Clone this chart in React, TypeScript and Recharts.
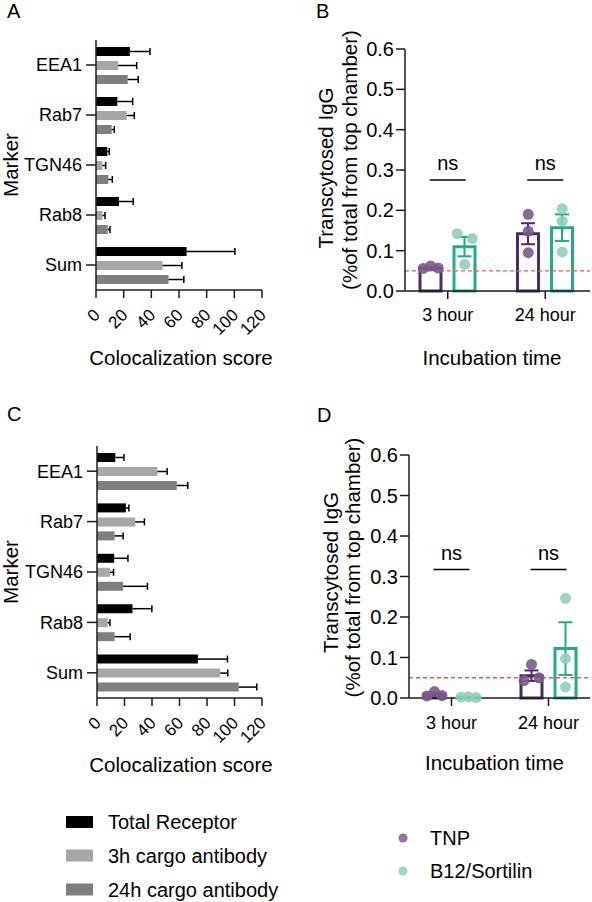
import {
  BarChart, Bar, ComposedChart, Scatter, XAxis, YAxis,
  ReferenceLine, ErrorBar,
} from 'recharts'

const FONT = '"Liberation Sans", Arial, Helvetica, sans-serif'
const INK = '#1c1c1c'

// A / C: colocalization score per marker
const markers = ['EEA1', 'Rab7', 'TGN46', 'Rab8', 'Sum']
const scoreTicks = [0, 20, 40, 60, 80, 100, 120]
const stainNames = ['Total Receptor', '3h cargo antibody', '24h cargo antibody']
const stainColors = ['#000000', '#a7a7a7', '#7f7f7f']

const totalA = [24.5, 15.4, 8.2, 16.6, 65.5]
const totalAErr = [14.5, 11.1, 1.4, 10.3, 34.9]
const cargo3hA = [16.0, 22.2, 4.6, 4.6, 48.1]
const cargo3hAErr = [13.4, 5.5, 2.4, 1.9, 14.0]
const cargo24hA = [22.9, 11.3, 8.9, 8.4, 52.4]
const cargo24hAErr = [7.6, 1.9, 2.9, 1.7, 11.1]

const totalC = [13.3, 21.0, 12.5, 25.8, 73.4]
const totalCErr = [6.3, 2.2, 10.0, 14.1, 21.5]
const cargo3hC = [43.9, 27.8, 9.4, 7.7, 89.6]
const cargo3hCErr = [7.1, 6.7, 2.6, 1.7, 5.5]
const cargo24hC = [58.0, 12.8, 19.0, 12.8, 103.1]
const cargo24hCErr = [8.0, 6.2, 17.7, 11.3, 13.1]

// B / D: transcytosed IgG
const times = ['3 hour', '24 hour']
const igTicks = [0, 0.1, 0.2, 0.3, 0.4, 0.5, 0.6]
const groupNames = ['TNP', 'B12/Sortilin']
const groupLines = ['#4b2a60', '#22ac87']
const groupDots = ['#7a5b8c', '#8ed1b7']
const cutoff = 0.05

const tnpB = [0.057, 0.142]
const tnpBSem = [0.003, 0.026]
const b12B = [0.110, 0.157]
const b12BSem = [0.024, 0.033]
const tnpBReps = [[0.056, 0.062, 0.057], [0.190, 0.148, 0.095]]
const b12BReps = [[0.142, 0.066, 0.130], [0.204, 0.173, 0.097]]
const nsB = 0.275

const tnpD = [0.009, 0.055]
const tnpDSem = [0.004, 0.013]
const b12D = [0.002, 0.122]
const b12DSem = [0.001, 0.065]
const tnpDReps = [[0.005, 0.016, 0.006], [0.043, 0.083, 0.050]]
const b12DReps = [[0.002, 0.003, 0.001], [0.246, 0.097, 0.027]]
const nsD = 0.317

const DOT_R = 5.5
const SPREAD = 7.5
const BAR_W = 21
const BAR_GAP = 13

function scoreRows(vals: number[][], errs: number[][]) {
  return markers.map((marker, i) => ({
    marker,
    s0: vals[0][i], e0: errs[0][i],
    s1: vals[1][i], e1: errs[1][i],
    s2: vals[2][i], e2: errs[2][i],
  }))
}

const rowsA = scoreRows([totalA, cargo3hA, cargo24hA], [totalAErr, cargo3hAErr, cargo24hAErr])
const rowsC = scoreRows([totalC, cargo3hC, cargo24hC], [totalCErr, cargo3hCErr, cargo24hCErr])

function igRows(tnp: number[], tnpSem: number[], b12: number[], b12Sem: number[]) {
  return times.map((time, i) => ({ time, tnp: tnp[i], tnpSem: tnpSem[i], b12: b12[i], b12Sem: b12Sem[i] }))
}

// replicates closer than one dot diameter get fanned out sideways (-1..1)
function spreadSlots(values: number[], gap: number) {
  const slots = values.map(() => 0)
  const order = values.map((_, i) => i).sort((a, b) => values[a] - values[b])
  let cluster: number[] = []
  const flush = () => {
    if (cluster.length > 1) {
      const byInput = [...cluster].sort((a, b) => a - b)
      byInput.forEach((idx, k) => { slots[idx] = (k / (byInput.length - 1)) * 2 - 1 })
    }
    cluster = []
  }
  order.forEach((idx) => {
    if (cluster.length && values[idx] - values[cluster[cluster.length - 1]] >= gap) flush()
    cluster.push(idx)
  })
  flush()
  return slots
}

function repDots(reps: number[][]) {
  return times.flatMap((time, t) => {
    const slots = spreadSlots(reps[t], 0.027)
    return reps[t].map((v, i) => ({ time, v, slot: slots[i] }))
  })
}

function ScoreTick(props: any) {
  const { x, y, payload } = props
  const px = x + 5
  const py = y + 18
  return (
    <text x={px} y={py} transform={`rotate(-45 ${px} ${py})`} textAnchor="end" fontSize={17} fill="#000">
      {payload.value}
    </text>
  )
}

function Whisker(props: any) {
  const { x, y, width, height } = props
  if (!width) return null
  const mid = y + height / 2
  return (
    <g stroke="#000" strokeWidth={1.5}>
      <line x1={x} y1={mid} x2={x + width} y2={mid} />
      <line x1={x + width} y1={mid - 3.5} x2={x + width} y2={mid + 3.5} />
    </g>
  )
}

function AxisText(props: any) {
  const { tx, ty, rot, txt, fs = 20.5 } = props
  return (
    <text x={tx} y={ty} transform={rot ? `rotate(${rot} ${tx} ${ty})` : undefined}
      textAnchor="middle" fontSize={fs} fill="#000">
      {txt}
    </text>
  )
}

function IgTitle(props: any) {
  const { l1x, l1y, l2x, l2y } = props
  return (
    <g>
      <AxisText tx={l1x} ty={l1y} rot={-90} txt="Transcytosed IgG" />
      <AxisText tx={l2x} ty={l2y} rot={-90} txt="(%of total from top chamber)" />
    </g>
  )
}

function NsMark(props: any) {
  const { cx, cy } = props
  return (
    <g>
      <line x1={cx - 18} x2={cx + 18} y1={cy} y2={cy} stroke="#000" strokeWidth={1.5} />
      <text x={cx} y={cy - 10} textAnchor="middle" fontSize={20} fill="#000">ns</text>
    </g>
  )
}

const dotShape = (color: string, shift: number) => (p: any) => (
  <circle cx={p.cx + shift + p.payload.slot * SPREAD} cy={p.cy} r={DOT_R} fill={color} fillOpacity={0.9} />
)

function ScorePanel({ rows, top, yW, right, bottom, markerY, titleY }: any) {
  return (
    <div style={{ position: 'absolute', left: 0, top: 0 }}>
      <BarChart width={296} height={380} data={rows} layout="vertical" barSize={9} barGap={5}
        margin={{ top, right, bottom, left: 0 }}>
        <XAxis type="number" domain={[0, 120]} ticks={scoreTicks} interval={0} tick={<ScoreTick />}
          tickSize={8} tickMargin={0} height={75}
          axisLine={{ stroke: INK, strokeWidth: 1.5 }} tickLine={{ stroke: INK, strokeWidth: 1.5 }}
          label={<AxisText tx={181} ty={titleY} txt="Colocalization score" />} />
        <YAxis type="category" dataKey="marker" width={yW} tickSize={10} tickMargin={4}
          tick={{ fontSize: 18, fill: '#000' }}
          axisLine={{ stroke: INK, strokeWidth: 1.5 }} tickLine={{ stroke: INK, strokeWidth: 1.5 }}
          label={<AxisText tx={17.5} ty={markerY} rot={-90} txt="Marker" />} />
        <Bar dataKey="s0" stackId="g0" fill={stainColors[0]} isAnimationActive={false} />
        <Bar dataKey="e0" stackId="g0" fill="none" shape={<Whisker />} isAnimationActive={false} />
        <Bar dataKey="s1" stackId="g1" fill={stainColors[1]} isAnimationActive={false} />
        <Bar dataKey="e1" stackId="g1" fill="none" shape={<Whisker />} isAnimationActive={false} />
        <Bar dataKey="s2" stackId="g2" fill={stainColors[2]} isAnimationActive={false} />
        <Bar dataKey="e2" stackId="g2" fill="none" shape={<Whisker />} isAnimationActive={false} />
      </BarChart>
    </div>
  )
}

function IgPanel({ rows, tnpReps, b12Reps, ns, top, yW, xH, pad, tickGap, title, xTitle }: any) {
  const shift = (BAR_W + BAR_GAP) / 2
  return (
    <div style={{ position: 'absolute', left: 296, top: 0 }}>
      <ComposedChart width={296} height={380} data={rows} barSize={BAR_W} barGap={BAR_GAP}
        margin={{ top, right: 2, bottom: 0, left: 0 }}>
        <XAxis dataKey="time" type="category" allowDuplicatedCategory={false} padding={pad}
          height={xH} tickSize={8} tickMargin={tickGap} tick={{ fontSize: 18, fill: '#000' }}
          axisLine={{ stroke: INK, strokeWidth: 1.5 }} tickLine={{ stroke: INK, strokeWidth: 1.5 }}
          label={<AxisText tx={xTitle[0]} ty={xTitle[1]} txt="Incubation time" />} />
        <YAxis type="number" domain={[0, 0.6]} ticks={igTicks} interval={0} width={yW}
          tickSize={9} tickMargin={2} tickFormatter={(v: number) => v.toFixed(1)}
          tick={{ fontSize: 20, fill: '#000' }}
          axisLine={{ stroke: INK, strokeWidth: 1.5 }} tickLine={{ stroke: INK, strokeWidth: 1.5 }}
          label={<IgTitle {...title} />} />
        <ReferenceLine y={cutoff} stroke="#ff5a3c" strokeDasharray="4 3" strokeWidth={1.3} />
        <Bar dataKey="tnp" fill="none" stroke={groupLines[0]} strokeWidth={3} isAnimationActive={false}>
          <ErrorBar dataKey="tnpSem" direction="y" width={7} stroke={groupLines[0]} strokeWidth={2} />
        </Bar>
        <Bar dataKey="b12" fill="none" stroke={groupLines[1]} strokeWidth={3} isAnimationActive={false}>
          <ErrorBar dataKey="b12Sem" direction="y" width={7} stroke={groupLines[1]} strokeWidth={2} />
        </Bar>
        <Scatter data={repDots(tnpReps)} dataKey="v" shape={dotShape(groupDots[0], -shift)} isAnimationActive={false} />
        <Scatter data={repDots(b12Reps)} dataKey="v" shape={dotShape(groupDots[1], shift)} isAnimationActive={false} />
        <Scatter data={times.map((time) => ({ time, v: ns }))} dataKey="v" shape={<NsMark />} isAnimationActive={false} />
      </ComposedChart>
    </div>
  )
}

function Overlay() {
  const letters = [['A', 7, 18], ['B', 316, 18], ['C', 7, 420.5], ['D', 317, 421.5]] as const
  const stainRows = [822, 855.5, 889.5]
  const groupRows = [838, 871]
  return (
    <svg width={592} height={902} style={{ position: 'absolute', left: 0, top: 0 }}>
      {letters.map(([t, x, y]) => (
        <text key={t} x={x} y={y} fontSize={20} fill="#000">{t}</text>
      ))}
      {stainNames.map((name, i) => (
        <g key={name}>
          <rect x={66} y={stainRows[i] - 6} width={27} height={12} fill={stainColors[i]} />
          <text x={108} y={stainRows[i] + 7} fontSize={20} fill="#000">{name}</text>
        </g>
      ))}
      {groupNames.map((name, i) => (
        <g key={name}>
          <circle cx={403} cy={groupRows[i]} r={4.5} fill={groupDots[i]} fillOpacity={0.85} />
          <text x={430} y={groupRows[i] + 7} fontSize={20} fill="#000">{name}</text>
        </g>
      ))}
    </svg>
  )
}

export default function App() {
  return (
    <div style={{ position: 'absolute', left: 0, top: 0, width: 592, height: 902, background: '#fff', fontFamily: FONT, overflow: 'hidden' }}>
      <Overlay />
      <div style={{ position: 'absolute', left: 0, top: 0 }}>
        <ScorePanel rows={rowsA} top={40} yW={96} right={34} bottom={15} markerY={165} titleY={365} />
        <IgPanel rows={igRows(tnpB, tnpBSem, b12B, b12BSem)} tnpReps={tnpBReps} b12Reps={b12BReps} ns={nsB}
          top={49} yW={109} xH={89} pad={{ left: -6, right: -4 }} tickGap={9}
          title={{ l1x: 37, l1y: 168, l2x: 61, l2y: 160 }} xTitle={[196, 365]} />
      </div>
      <div style={{ position: 'absolute', left: 0, top: 400 }}>
        <ScorePanel rows={rowsC} top={46} yW={97} right={34} bottom={7} markerY={172} titleY={372} />
        <IgPanel rows={igRows(tnpD, tnpDSem, b12D, b12DSem)} tnpReps={tnpDReps} b12Reps={b12DReps} ns={nsD}
          top={55} yW={113} xH={82} pad={{ left: -6, right: -7 }} tickGap={10}
          title={{ l1x: 42, l1y: 172.5, l2x: 64, l2y: 167.5 }} xTitle={[198.5, 370]} />
      </div>
    </div>
  )
}
